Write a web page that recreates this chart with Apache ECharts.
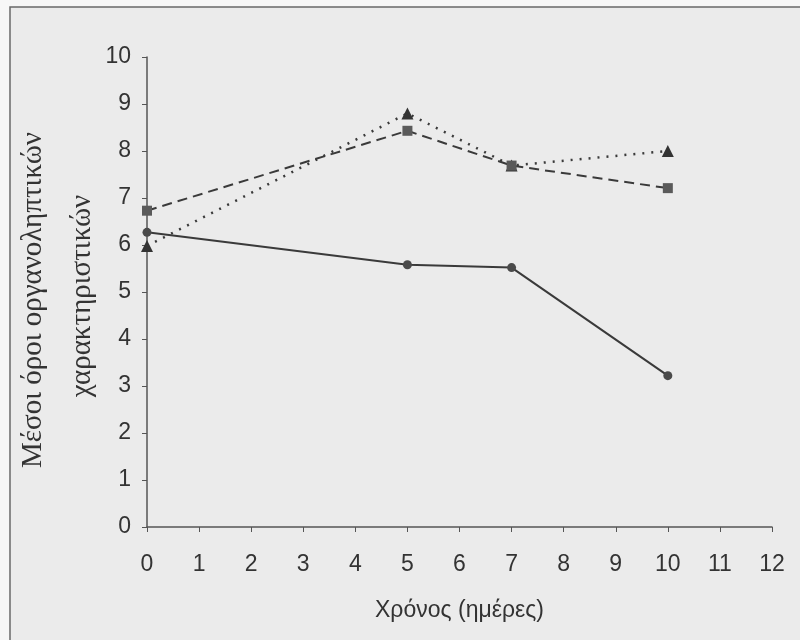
<!DOCTYPE html>
<html>
<head>
<meta charset="utf-8">
<script src="https://cdn.jsdelivr.net/npm/echarts@6/dist/echarts.min.js"></script>
<style>
  html, body { margin: 0; padding: 0; background: #f7f7f7; }
  #chart { width: 800px; height: 640px; }
</style>
</head>
<body>
<div id="chart"></div>
<script>
// Sampling days
const days = [0, 5, 7, 10];
// Mean sensory scores per sample
const seriesSolid = [6.27, 5.58, 5.52, 3.22];
const seriesDashed = [6.73, 8.43, 7.69, 7.21];
const seriesDotted = [5.98, 8.8, 7.69, 8.0];

const xTicks = [0, 1, 2, 3, 4, 5, 6, 7, 8, 9, 10, 11, 12];
const yTicks = [0, 1, 2, 3, 4, 5, 6, 7, 8, 9, 10];

const xTitle = 'Χρόνος (ημέρες)';
const yTitle1 = 'Μέσοι όροι οργανοληπτικών';
const yTitle2 = 'χαρακτηριστικών';

const pairs = vals => days.map((d, i) => [d, vals[i]]);
const ink = '#333';

const chart = echarts.init(document.getElementById('chart'));
chart.setOption({
  animation: false,
  backgroundColor: '#f7f7f7',
  graphic: [
    {
      type: 'rect', z: -10,
      shape: { x: 10, y: 7, width: 800, height: 640 },
      style: { fill: '#ebebeb', stroke: '#6a6a6a', lineWidth: 1.5 }
    },
    {
      type: 'text', x: 33, y: 300, rotation: Math.PI / 2,
      style: {
        text: yTitle1, font: '29px "Liberation Serif"', fill: ink,
        align: 'center', verticalAlign: 'middle'
      }
    },
    {
      type: 'text', x: 82, y: 296, rotation: Math.PI / 2,
      style: {
        text: yTitle2, font: '29px "Liberation Serif"', fill: ink,
        align: 'center', verticalAlign: 'middle'
      }
    }
  ],
  grid: { left: 147, right: 28, top: 57, bottom: 113 },
  xAxis: {
    type: 'value', min: xTicks[0], max: xTicks[xTicks.length - 1], interval: 1,
    name: xTitle, nameLocation: 'middle', nameGap: 72,
    nameTextStyle: { fontFamily: 'Liberation Sans', fontSize: 23, color: ink },
    axisLine: { lineStyle: { color: '#555', width: 1.5 } },
    axisTick: { show: true, length: 5, lineStyle: { color: '#555' } },
    axisLabel: { fontFamily: 'Liberation Sans', fontSize: 23, color: ink, margin: 26 },
    splitLine: { show: false }
  },
  yAxis: {
    type: 'value', min: yTicks[0], max: yTicks[yTicks.length - 1], interval: 1,
    axisLine: { show: true, lineStyle: { color: '#555', width: 1.5 } },
    axisTick: { show: true, length: 5, lineStyle: { color: '#555' } },
    axisLabel: { fontFamily: 'Liberation Sans', fontSize: 23, color: ink, margin: 16 },
    splitLine: { show: false }
  },
  series: [
    {
      type: 'line', data: pairs(seriesSolid),
      symbol: 'circle', symbolSize: 9,
      itemStyle: { color: '#4a4a4a' },
      lineStyle: { color: '#3a3a3a', width: 2, type: 'solid' }
    },
    {
      type: 'line', data: pairs(seriesDotted),
      symbol: 'triangle', symbolSize: 12,
      itemStyle: { color: '#333' },
      lineStyle: { color: '#3a3a3a', width: 2.5, type: [2, 7] }
    },
    {
      type: 'line', data: pairs(seriesDashed),
      symbol: 'rect', symbolSize: 10,
      itemStyle: { color: '#5a5a5a' },
      lineStyle: { color: '#3a3a3a', width: 2, type: [10, 6] }
    }
  ]
});
</script>
</body>
</html>
